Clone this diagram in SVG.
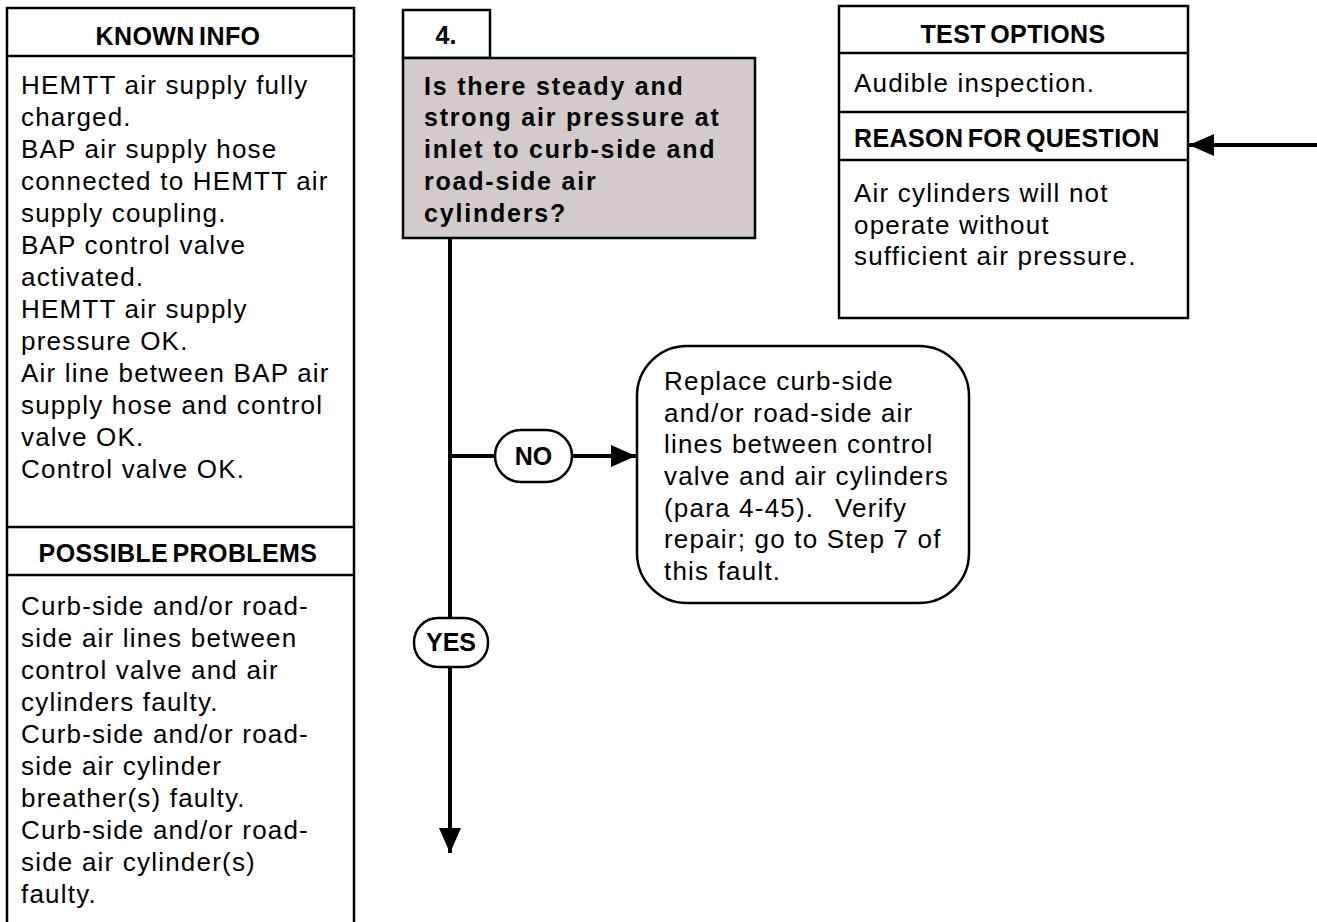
<svg xmlns="http://www.w3.org/2000/svg" width="1317" height="922" viewBox="0 0 1317 922">
<defs>
<style>
.box{fill:#fff;stroke:#000;stroke-width:2.5}
.div{stroke:#000;stroke-width:2.5}
.hdr{font-family:"Liberation Sans",Arial,sans-serif;font-weight:bold;font-size:25px;letter-spacing:0.4px;word-spacing:-3px;fill:#000}
.txt{font-family:"Liberation Sans",Arial,sans-serif;font-size:26px;letter-spacing:1.2px;fill:#000}
.q{font-family:"Liberation Sans",Arial,sans-serif;font-weight:bold;font-size:25px;letter-spacing:1.8px;fill:#000}
.lbl{font-family:"Liberation Sans",Arial,sans-serif;font-weight:bold;font-size:25px;fill:#000}
.conn{stroke:#000;stroke-width:4;fill:none}
</style>
<marker id="ah" markerUnits="userSpaceOnUse" markerWidth="26" markerHeight="24" refX="25" refY="11" orient="auto">
<path d="M0,0 L25,11 L0,22 Z" fill="#000"/>
</marker>
</defs>
<rect width="1317" height="922" fill="#fff"/>

<g id="known-info">
<rect class="box" x="7" y="8" width="347" height="930"/>
<line class="div" x1="7" y1="56" x2="354" y2="56"/>
<text class="hdr" x="178" y="45" text-anchor="middle">KNOWN INFO</text>
<text class="txt" x="21">
<tspan x="21" y="94">HEMTT air supply fully</tspan>
<tspan x="21" y="126">charged.</tspan>
<tspan x="21" y="158">BAP air supply hose</tspan>
<tspan x="21" y="190">connected to HEMTT air</tspan>
<tspan x="21" y="222">supply coupling.</tspan>
<tspan x="21" y="254">BAP control valve</tspan>
<tspan x="21" y="286">activated.</tspan>
<tspan x="21" y="318">HEMTT air supply</tspan>
<tspan x="21" y="350">pressure OK.</tspan>
<tspan x="21" y="382">Air line between BAP air</tspan>
<tspan x="21" y="414">supply hose and control</tspan>
<tspan x="21" y="446">valve OK.</tspan>
<tspan x="21" y="478">Control valve OK.</tspan>
</text>
</g>

<g id="possible-problems">
<line class="div" x1="7" y1="527" x2="354" y2="527"/>
<line class="div" x1="7" y1="575" x2="354" y2="575"/>
<text class="hdr" x="178" y="562" text-anchor="middle">POSSIBLE PROBLEMS</text>
<text class="txt" x="21">
<tspan x="21" y="615">Curb-side and/or road-</tspan>
<tspan x="21" y="647">side air lines between</tspan>
<tspan x="21" y="679">control valve and air</tspan>
<tspan x="21" y="711">cylinders faulty.</tspan>
<tspan x="21" y="743">Curb-side and/or road-</tspan>
<tspan x="21" y="775">side air cylinder</tspan>
<tspan x="21" y="807">breather(s) faulty.</tspan>
<tspan x="21" y="839">Curb-side and/or road-</tspan>
<tspan x="21" y="871">side air cylinder(s)</tspan>
<tspan x="21" y="903">faulty.</tspan>
</text>
</g>

<g id="step-number">
<rect class="box" x="403" y="10" width="87" height="48"/>
<text class="lbl" x="446" y="44" text-anchor="middle">4.</text>
</g>

<g id="question">
<rect x="403" y="58" width="352" height="180" fill="#d3cbcb" stroke="#000" stroke-width="2.5"/>
<text class="q">
<tspan x="424" y="95">Is there steady and</tspan>
<tspan x="424" y="126">strong air pressure at</tspan>
<tspan x="424" y="158">inlet to curb-side and</tspan>
<tspan x="424" y="190">road-side air</tspan>
<tspan x="424" y="222">cylinders?</tspan>
</text>
</g>

<g id="test-options">
<rect class="box" x="839" y="6" width="349" height="312"/>
<line class="div" x1="839" y1="53" x2="1188" y2="53"/>
<line class="div" x1="839" y1="112" x2="1188" y2="112"/>
<line class="div" x1="839" y1="160" x2="1188" y2="160"/>
<text class="hdr" x="1013" y="43" text-anchor="middle">TEST OPTIONS</text>
<text class="txt" x="854" y="92">Audible inspection.</text>
<text class="hdr" x="854" y="147">REASON FOR QUESTION</text>
<text class="txt">
<tspan x="854" y="202">Air cylinders will not</tspan>
<tspan x="854" y="234">operate without</tspan>
<tspan x="854" y="265">sufficient air pressure.</tspan>
</text>
</g>

<g id="action">
<rect class="box" x="637" y="346" width="332" height="257" rx="50" ry="50"/>
<text class="txt">
<tspan x="664" y="390">Replace curb-side</tspan>
<tspan x="664" y="422">and/or road-side air</tspan>
<tspan x="664" y="453">lines between control</tspan>
<tspan x="664" y="485">valve and air cylinders</tspan>
<tspan x="664" y="517">(para 4-45).</tspan><tspan x="835" y="517">Verify</tspan>
<tspan x="664" y="548">repair; go to Step 7 of</tspan>
<tspan x="664" y="580">this fault.</tspan>
</text>
</g>

<g id="connectors">
<line class="conn" x1="450" y1="238" x2="450" y2="618"/>
<line class="conn" x1="450" y1="667" x2="450" y2="853" marker-end="url(#ah)"/>
<line class="conn" x1="450" y1="456" x2="495" y2="456"/>
<line class="conn" x1="572" y1="456" x2="636" y2="456" marker-end="url(#ah)"/>
<line class="conn" x1="1317" y1="145" x2="1189" y2="145" marker-end="url(#ah)"/>
</g>

<g id="label-no">
<rect class="box" x="495" y="430" width="77" height="52" rx="26" ry="26"/>
<text class="lbl" x="533.5" y="465" text-anchor="middle">NO</text>
</g>

<g id="label-yes">
<rect class="box" x="414" y="618" width="74" height="49" rx="24" ry="24"/>
<text class="lbl" x="451" y="651" text-anchor="middle">YES</text>
</g>
</svg>
